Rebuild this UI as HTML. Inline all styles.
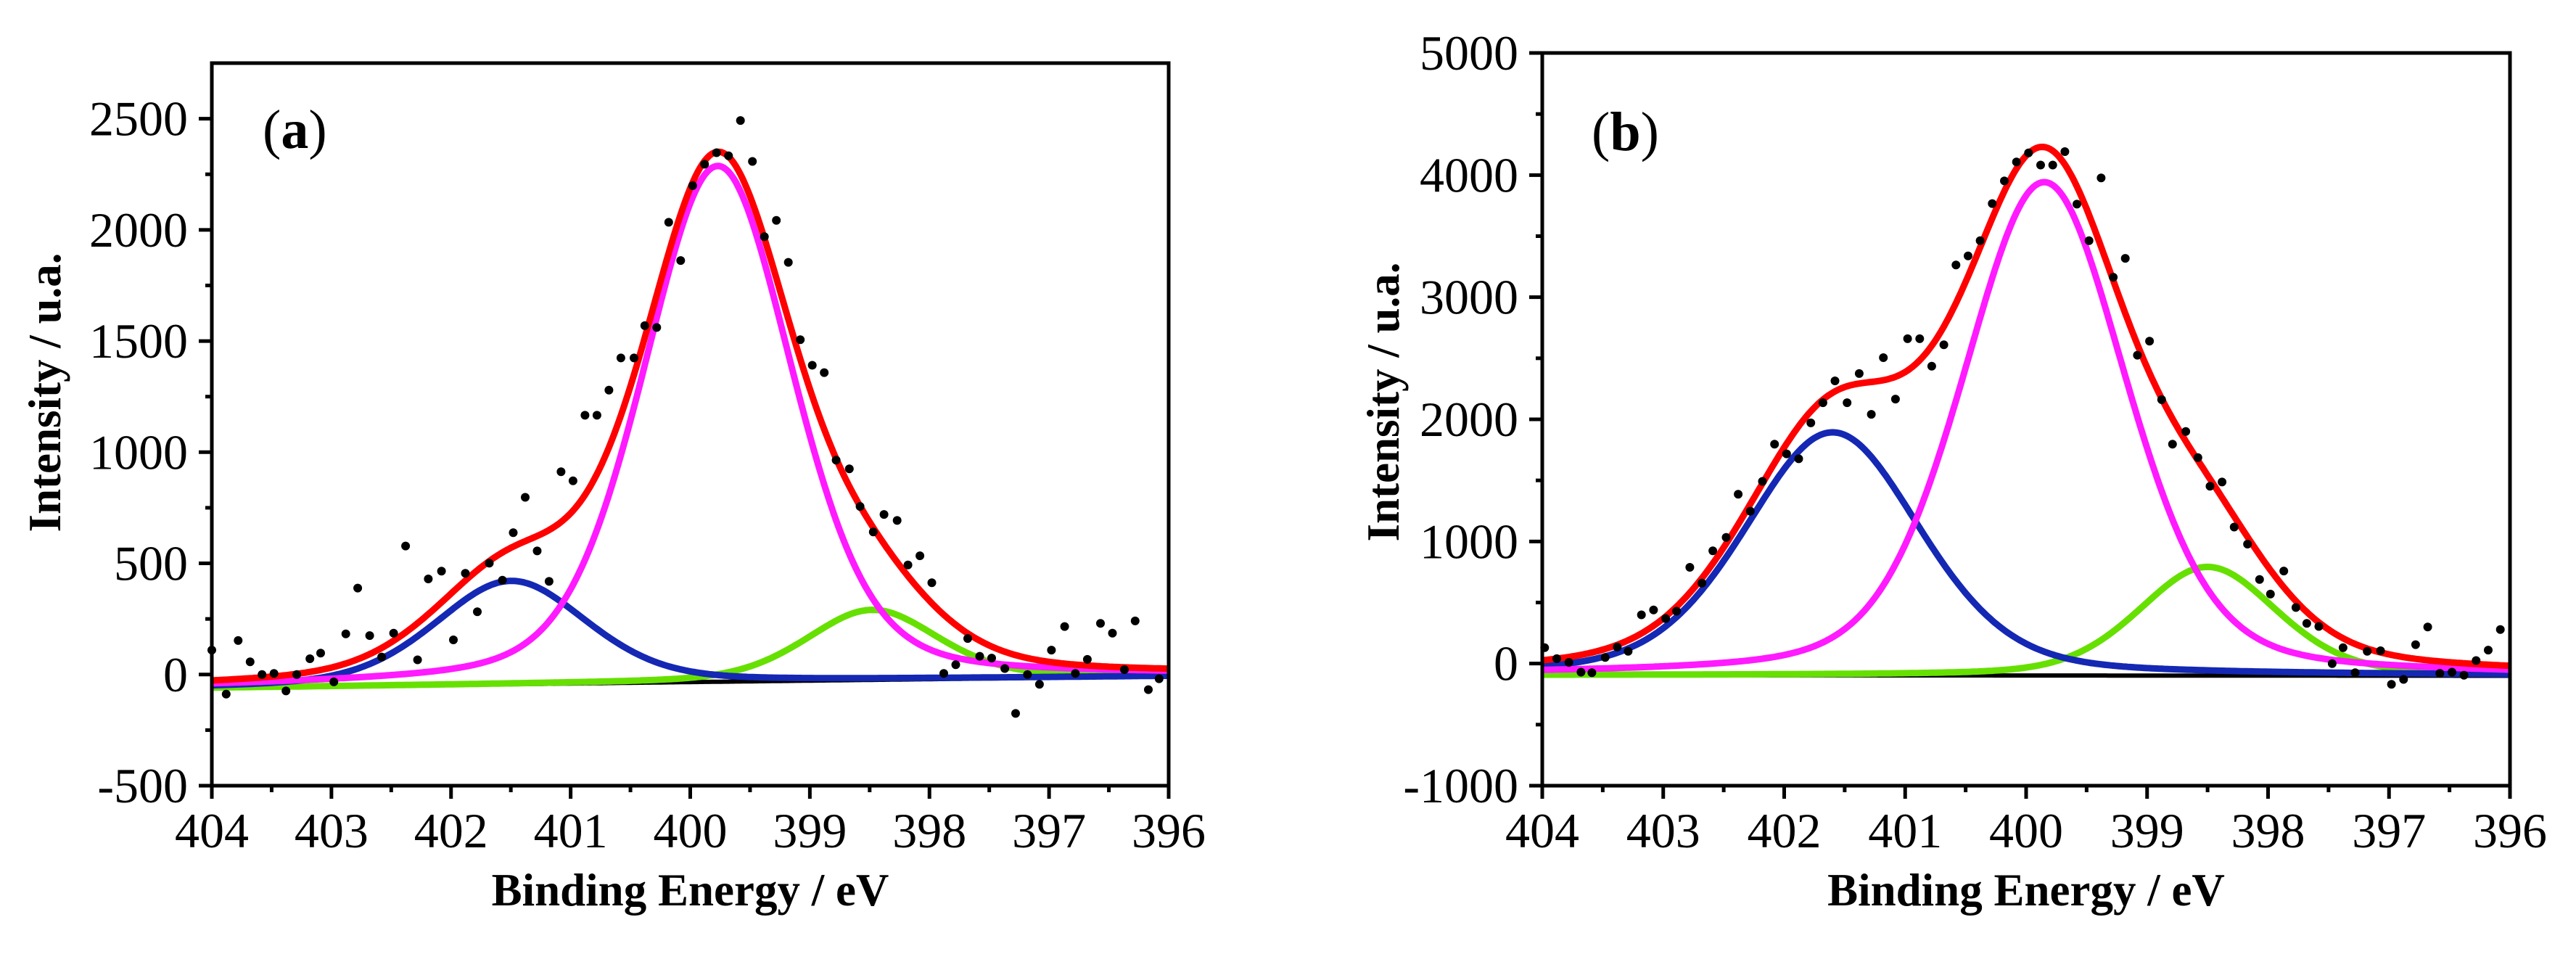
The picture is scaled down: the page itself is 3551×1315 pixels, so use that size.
<!DOCTYPE html>
<html><head><meta charset="utf-8"><style>
html,body{margin:0;padding:0;background:#fff;}
svg{display:block;}
text{font-family:"Liberation Serif","DejaVu Serif",serif;fill:#000;}
</style></head><body>
<svg id="fig" width="3551" height="1315" viewBox="0 0 3551 1315" xmlns="http://www.w3.org/2000/svg"></svg>
<script>
// ---------- Panel (a) data ----------
const aEnergy = [404.0,403.88,403.78,403.68,403.58,403.48,403.38,403.29,403.18,403.09,402.98,402.88,402.78,402.68,402.58,402.48,402.38,402.28,402.19,402.08,401.98,401.88,401.78,401.68,401.57,401.48,401.38,401.28,401.18,401.08,400.98,400.88,400.78,400.68,400.58,400.47,400.38,400.28,400.18,400.08,399.98,399.88,399.78,399.68,399.58,399.48,399.38,399.28,399.18,399.08,398.98,398.88,398.78,398.67,398.58,398.47,398.38,398.27,398.18,398.08,397.98,397.88,397.78,397.68,397.58,397.48,397.37,397.28,397.18,397.08,396.98,396.87,396.78,396.68,396.57,396.47,396.37,396.28,396.17,396.08];
const aCounts = [110,-88,153,57,0,5,-74,0,71,96,-33,183,389,175,79,186,578,66,430,465,156,455,282,501,424,638,797,556,419,912,871,1166,1166,1279,1424,1424,1569,1561,2034,1862,2199,2295,2347,2333,2492,2308,1969,2043,1854,1506,1391,1358,964,925,756,641,720,693,493,534,413,5,44,162,82,74,27,-175,0,-44,110,216,5,68,230,186,22,241,-68,-19];
const aPeakNames = ["blue-peak","magenta-peak","green-peak"];
const aPeakCenters = [401.5, 399.77, 398.48];
const aPeakHeights = [465, 2320, 315];
const aPeakFwhm = [1.5, 1.48, 1.3];
const aBaseline = [-60, -8]; // at 404 and 396
// ---------- Panel (b) data ----------
const bEnergy = [403.98,403.88,403.78,403.68,403.59,403.48,403.38,403.29,403.18,403.08,402.98,402.89,402.78,402.68,402.59,402.48,402.38,402.28,402.18,402.08,401.98,401.88,401.78,401.68,401.58,401.48,401.38,401.28,401.18,401.08,400.98,400.88,400.78,400.68,400.58,400.48,400.38,400.28,400.18,400.08,399.98,399.88,399.78,399.68,399.58,399.48,399.38,399.28,399.18,399.08,398.98,398.88,398.79,398.68,398.58,398.48,398.38,398.28,398.17,398.07,397.98,397.87,397.77,397.68,397.58,397.47,397.38,397.28,397.18,397.07,396.98,396.88,396.78,396.68,396.58,396.48,396.38,396.28,396.18,396.08];
const bCounts = [130,40,10,-70,-75,50,135,100,399,439,369,429,788,659,923,1033,1387,1248,1492,1796,1717,1677,1971,2136,2315,2136,2375,2041,2505,2166,2660,2660,2435,2610,3264,3338,3463,3767,3952,4107,4182,4082,4082,4192,3762,3463,3977,3164,3318,2525,2640,2161,1796,1901,1687,1452,1487,1118,978,689,569,758,459,329,304,0,130,-75,100,105,-170,-130,155,299,-80,-70,-95,25,110,279];
const bPeakNames = ["blue-peak","magenta-peak","green-peak"];
const bPeakCenters = [401.6, 399.85, 398.5];
const bPeakHeights = [1990, 4040, 890];
const bPeakFwhm = [1.72, 1.6, 1.35];
const bBaseline = [-95, -100];
// ---------- axis definitions ----------
const aYTicks = [-500,0,500,1000,1500,2000,2500];
const bYTicks = [-1000,0,1000,2000,3000,4000,5000];
const xTicks = [404,403,402,401,400,399,398,397,396];

const NS = "http://www.w3.org/2000/svg";
const svg = document.getElementById("fig");
function mk(tag, attrs, parent){
  const e = document.createElementNS(NS, tag);
  for (const k in attrs) e.setAttribute(k, attrs[k]);
  (parent||svg).appendChild(e);
  return e;
}
const colors = {"blue-peak":"#1428b4","magenta-peak":"#ff1aff","green-peak":"#66e000"};
const ETA = 0.3;
function pv(x, c, h, w){
  const d = (x - c) / w;
  const g = Math.exp(-4*Math.LN2*d*d);
  const l = 1/(1+4*d*d);
  return h*((1-ETA)*g + ETA*l);
}

function panel(cfg){
  const g = mk("g", {});
  
  
  const L=cfg.left,R=cfg.right,T=cfg.top,B=cfg.bottom;
  const sx = e => L + (404 - e) / 8 * (R - L);
  const sy = v => B - (v - cfg.ymin) / (cfg.ymax - cfg.ymin) * (B - T);
  const base = e => cfg.baseline[0] + (404 - e)/8*(cfg.baseline[1]-cfg.baseline[0]);
  const cid = cfg.name + "-clip";
  const cp = mk("clipPath", {id: cid}, g);
  mk("rect", {x:L, y:T, width:R-L, height:B-T}, cp);
  const plot = mk("g", {"clip-path":"url(#"+cid+")"}, g);
  
  
  const N = 400;
  const es = [];
  for (let i=0;i<=N;i++) es.push(404 - 8*i/N);
  const bl = mk("path", {d: es.map((e,i)=>(i?"L":"M")+sx(e).toFixed(1)+","+sy(base(e)).toFixed(1)).join(""), fill:"none", stroke:"#000", "stroke-width":6}, plot);
  
  
  const order = [2,0,1];
  order.forEach(k=>{
    const p = mk("path", {d: es.map((e,i)=>(i?"L":"M")+sx(e).toFixed(1)+","+sy(base(e)+pv(e,cfg.centers[k],cfg.heights[k],cfg.fwhm[k])).toFixed(1)).join(""), fill:"none", stroke:colors[cfg.names[k]], "stroke-width":9, "stroke-linejoin":"round"}, plot);
    
    
  });
  const env = mk("path", {d: es.map((e,i)=>{
    let v = base(e);
    for (let k=0;k<cfg.centers.length;k++) v += pv(e,cfg.centers[k],cfg.heights[k],cfg.fwhm[k]);
    return (i?"L":"M")+sx(e).toFixed(1)+","+sy(v).toFixed(1);
  }).join(""), fill:"none", stroke:"#ff0000", "stroke-width":9, "stroke-linejoin":"round"}, plot);
  
  
  cfg.energy.forEach((e,i)=>{
    const c = mk("circle", {cx:sx(e).toFixed(1), cy:sy(cfg.counts[i]).toFixed(1), r:6, fill:"#000"}, g);
    
    
  });
  const fr = mk("rect", {x:L, y:T, width:R-L, height:B-T, fill:"none", stroke:"#000", "stroke-width":5}, g);
  
  
  xTicks.forEach((t,i)=>{
    const x = sx(t);
    const tk = mk("line", {x1:x, y1:B, x2:x, y2:B+18, stroke:"#000", "stroke-width":5}, g);
    
    
    const lb = mk("text", {x:x, y:B+85, "font-size":68, "text-anchor":"middle"}, g);
    lb.textContent = t;
    
    
    if (i < xTicks.length-1){
      const xm = sx(t-0.5);
      const mt = mk("line", {x1:xm, y1:B, x2:xm, y2:B+9, stroke:"#000", "stroke-width":5}, g);
      
      
    }
  });
  const yt = cfg.yticks;
  const step = yt[1]-yt[0];
  yt.forEach((t,i)=>{
    const y = sy(t);
    const tk = mk("line", {x1:L-18, y1:y, x2:L, y2:y, stroke:"#000", "stroke-width":5}, g);
    
    
    const lb = mk("text", {x:L-33, y:y+23, "font-size":68, "text-anchor":"end"}, g);
    lb.textContent = t;
    
    
  });
  for (let v = yt[0]+step/2; v < cfg.ymax; v += step){
    const y = sy(v);
    const mt = mk("line", {x1:L-9, y1:y, x2:L, y2:y, stroke:"#000", "stroke-width":5}, g);
    
    
  }
  const xt = mk("text", {x:(L+R)/2, y:1248, "font-size":63, "font-weight":"bold", "text-anchor":"middle"}, g);
  xt.textContent = "Binding Energy / eV";
  
  
  const ytl = mk("text", {x:0, y:0, "font-size":63, "font-weight":"bold", "text-anchor":"middle", transform:"translate("+cfg.ytitleX+","+cfg.ytitleY+") rotate(-90)"}, g);
  ytl.textContent = "Intensity / u.a.";
  
  
  const pl = mk("text", {x:cfg.labelX, y:cfg.labelY, "font-size":76}, g);
  
  
  const t1 = mk("tspan", {}, pl); t1.textContent = "(";
  const t2 = mk("tspan", {"font-weight":"bold"}, pl); t2.textContent = cfg.letter;
  const t3 = mk("tspan", {}, pl); t3.textContent = ")";
}

panel({name:"panel-a", left:292, right:1611, top:87, bottom:1083, ymin:-500, ymax:2750,
  yticks:aYTicks, energy:aEnergy, counts:aCounts, names:aPeakNames, centers:aPeakCenters,
  heights:aPeakHeights, fwhm:aPeakFwhm, baseline:aBaseline, ytitleX:83, ytitleY:541,
  labelX:362, labelY:204, letter:"a"});
panel({name:"panel-b", left:2126, right:3460, top:73, bottom:1083, ymin:-1000, ymax:5000,
  yticks:bYTicks, energy:bEnergy, counts:bCounts, names:bPeakNames, centers:bPeakCenters,
  heights:bPeakHeights, fwhm:bPeakFwhm, baseline:bBaseline, ytitleX:1928, ytitleY:554,
  labelX:2194, labelY:207, letter:"b"});
</script>
</body></html>
